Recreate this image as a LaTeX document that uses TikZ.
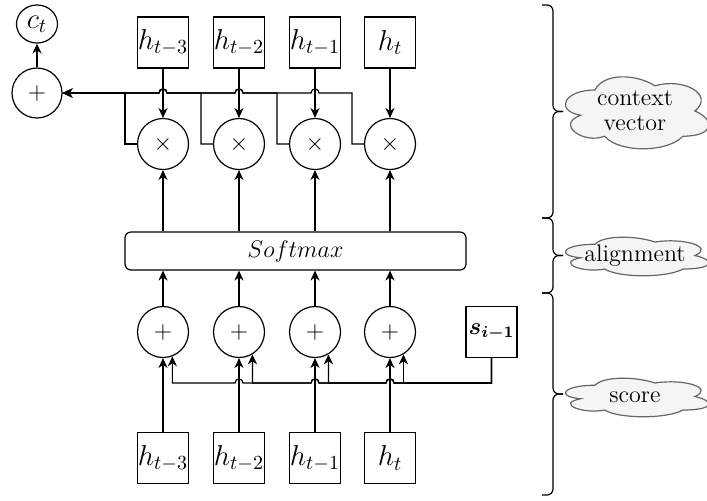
\documentclass[tikz,border=0pt]{standalone}
\usepackage{amsmath}
\usetikzlibrary{shapes.geometric,arrows.meta}
\definecolor{cloudline}{HTML}{666666}
\definecolor{cloudfill}{HTML}{F5F5F5}
\newcommand{\mxcloudpath}{%
  \draw[cloudshape] (0.25,0.25) .. controls (0.05,0.25) and (0,0.5) .. (0.16,0.55)
    .. controls (0,0.66) and (0.18,0.9) .. (0.31,0.8)
    .. controls (0.4,1) and (0.7,1) .. (0.8,0.8)
    .. controls (1,0.8) and (1,0.6) .. (0.875,0.5)
    .. controls (1,0.3) and (0.8,0.1) .. (0.625,0.2)
    .. controls (0.5,0.05) and (0.3,0.05) .. (0.25,0.25) -- cycle;}
\begin{document}
\begin{tikzpicture}[x=0.5pt,y=-0.5pt,
  line width=0.6pt,
  box/.style={draw, minimum width=25.5pt, minimum height=25.5pt, inner sep=0pt, font=\fontsize{14}{16}\selectfont},
  op/.style={draw, circle, minimum size=25.5pt, inner sep=0pt, font=\fontsize{12.5}{14}\selectfont},
  arr/.style={-{Stealth[length=5pt,width=4.6pt,inset=1.6pt]}},
  cloudshape/.style={draw=cloudline, fill=cloudfill, line width=0.6pt},
  cloudtext/.style={align=center, font=\fontsize{12}{12.5}\selectfont, inner sep=0pt},
  bracepath/.style={rounded corners=3pt}
]
\useasboundingbox (0,0) rectangle (707,500);

% output
\node[draw, ellipse, minimum width=20.5pt, minimum height=19pt, inner sep=0pt, font=\fontsize{14}{16}\selectfont] (ct) at (37,24) {$c_t$};
\node[op, minimum size=25pt] (sum) at (37,93) {$+$};

% top hidden states
\node[box] (h1) at (163,42.5) {$h_{t-3}$};
\node[box] (h2) at (239,42.5) {$h_{t-2}$};
\node[box] (h3) at (315,42.5) {$h_{t-1}$};
\node[box] (h4) at (390,42.5) {$h_t$};

% multiplications
\node[op] (m1) at (163,144) {$\times$};
\node[op] (m2) at (239,144) {$\times$};
\node[op] (m3) at (315,144) {$\times$};
\node[op] (m4) at (390,144) {$\times$};

% softmax
\node[draw, rounded corners=3pt, minimum width=170.5pt, minimum height=19pt, inner sep=0pt, font=\large] (sm) at (295.5,251) {$Softmax$};

% additions
\node[op] (p1) at (163,332) {$+$};
\node[op] (p2) at (239,332) {$+$};
\node[op] (p3) at (315,332) {$+$};
\node[op] (p4) at (390,332) {$+$};

\node[box, font=\large] (s) at (491.5,332) {$\boldsymbol{s_{i-1}}$};

% bottom hidden states
\node[box] (b1) at (163,458) {$h_{t-3}$};
\node[box] (b2) at (239,458) {$h_{t-2}$};
\node[box] (b3) at (315,458) {$h_{t-1}$};
\node[box] (b4) at (390,458) {$h_t$};

% straight connectors
\draw[arr] (sum.north) -- (ct.south);
\foreach \i in {1,...,4}{
  \draw[arr] (h\i.south) -- (m\i.north);
  \draw[arr] (sm.north -| m\i) -- (m\i.south);
  \draw[arr] (p\i.north) -- (p\i |- sm.south);
  \draw[arr] (b\i.north) -- (p\i.south);
}

% top bus (context vector)
\draw[arr] (m1.west) -- (125,144) -- (125,93) -- (sum.east);
\draw[arr] (m2.west) -- (201,144) -- (201,93)
  -- (167,93) .. controls (167,87.67) and (159,87.67) .. (159,93)
  -- (sum.east);
\draw[arr] (m3.west) -- (277,144) -- (277,93)
  -- (243,93) .. controls (243,87.67) and (235,87.67) .. (235,93)
  -- (167,93) .. controls (167,87.67) and (159,87.67) .. (159,93)
  -- (sum.east);
\draw[arr] (m4.west) -- (352,144) -- (352,93)
  -- (319,93) .. controls (319,87.67) and (311,87.67) .. (311,93)
  -- (243,93) .. controls (243,87.67) and (235,87.67) .. (235,93)
  -- (167,93) .. controls (167,87.67) and (159,87.67) .. (159,93)
  -- (sum.east);

% bottom bus (score)
\coordinate (sb) at (491.5,383);
\draw[arr] (s.south) -- (sb) -- (p4.-59.4 |- sb) -- (p4.-59.4);
\draw[arr] (s.south) -- (sb)
  -- (394,383) .. controls (394,377.67) and (386,377.67) .. (386,383)
  -- (p3.-59.4 |- sb) -- (p3.-59.4);
\draw[arr] (s.south) -- (sb)
  -- (394,383) .. controls (394,377.67) and (386,377.67) .. (386,383)
  -- (319,383) .. controls (319,377.67) and (311,377.67) .. (311,383)
  -- (p2.-59.4 |- sb) -- (p2.-59.4);
\draw[arr] (s.south) -- (sb)
  -- (394,383) .. controls (394,377.67) and (386,377.67) .. (386,383)
  -- (319,383) .. controls (319,377.67) and (311,377.67) .. (311,383)
  -- (243,383) .. controls (243,377.67) and (235,377.67) .. (235,383)
  -- (p1.-69.3 |- sb) -- (p1.-69.3);

% braces
\draw[bracepath] (542,5) -- (553,5) -- (553,111.5) -- (563,111.5);
\draw[bracepath] (563,111.5) -- (553,111.5) -- (553,218) -- (542,218);
\draw[bracepath] (542,218) -- (553,218) -- (553,255.5) -- (563,255.5);
\draw[bracepath] (563,255.5) -- (553,255.5) -- (553,293) -- (542,293);
\draw[bracepath] (542,293) -- (553,293) -- (553,394) -- (563,394);
\draw[bracepath] (563,394) -- (553,394) -- (553,495) -- (542,495);

% clouds
\begin{scope}[shift={(555,69)}, x=80pt, y=-42pt]
  \mxcloudpath
\end{scope}
\begin{scope}[shift={(555,233)}, x=80pt, y=-22.5pt]
  \mxcloudpath
\end{scope}
\begin{scope}[shift={(555,374)}, x=80pt, y=-22.5pt]
  \mxcloudpath
\end{scope}
\node[cloudtext] (c1) at (635,110.5) {context\\vector};
\node[cloudtext] (c2) at (635,256) {alignment};
\node[cloudtext] (c3) at (635,397) {score};
\end{tikzpicture}
\end{document}
